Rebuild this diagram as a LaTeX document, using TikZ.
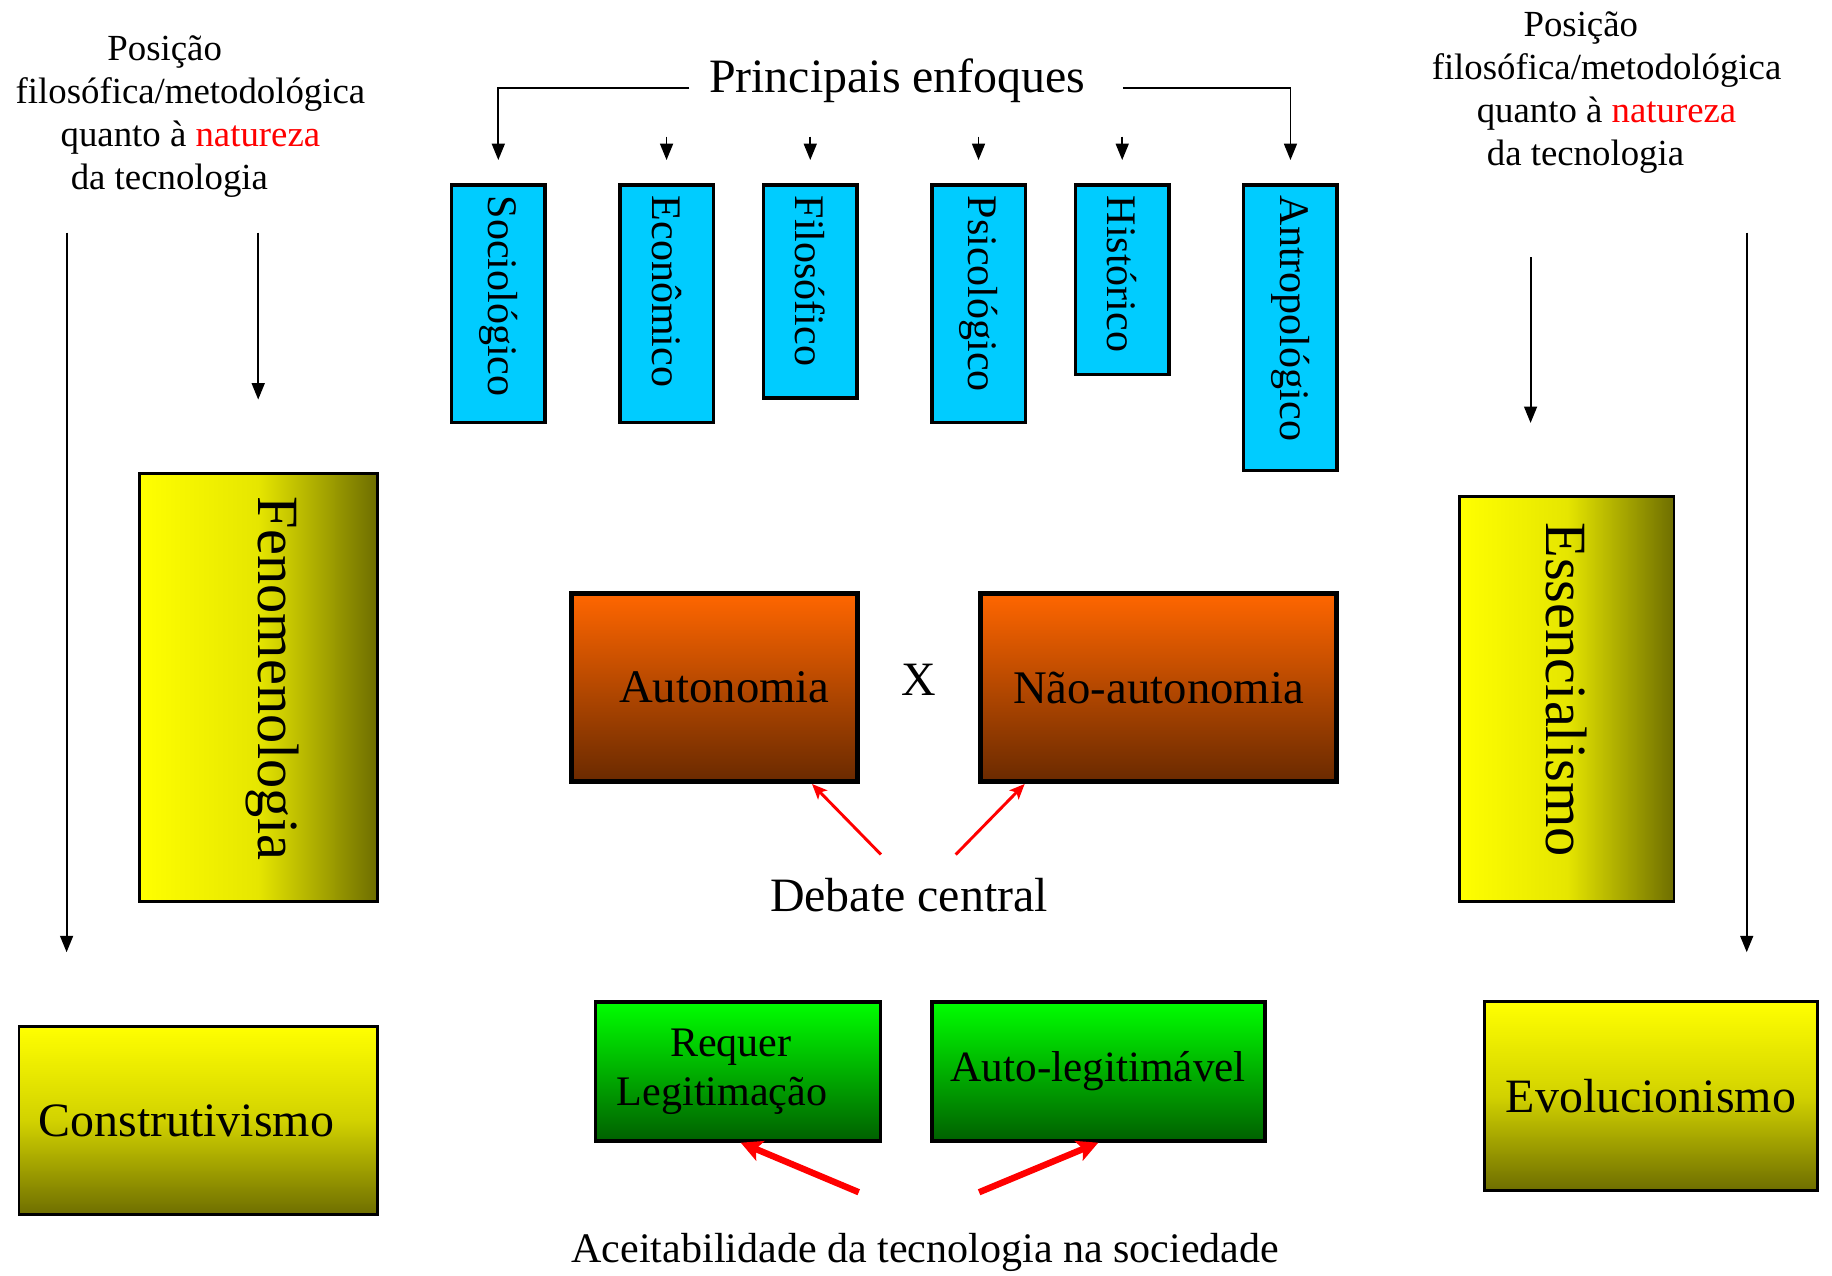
\documentclass[tikz,border=0pt]{standalone}
\usepackage{fontspec}
\setmainfont{Liberation Serif}
\usetikzlibrary{arrows.meta}
\definecolor{cyanbox}{HTML}{00CCFF}
\definecolor{olv}{HTML}{6E6E00}
\definecolor{yelmid}{HTML}{E6E600}
\definecolor{yelmidv}{HTML}{D2D200}
\definecolor{orgtop}{HTML}{FF6600}
\definecolor{orgbot}{HTML}{6A2A00}
\definecolor{grntop}{HTML}{00FF00}
\definecolor{grnbot}{HTML}{006000}
\begin{document}
\begin{tikzpicture}[x=1pt,y=-1pt,
  every node/.style={inner sep=0pt},
  blackarrow/.style={line width=1.6pt,-{Triangle[length=14pt,width=11pt]}},
  redthin/.style={draw=red,line width=2.5pt,-{Stealth[length=13pt,width=11pt,inset=3pt]}},
  redthick/.style={draw=red,line width=5.5pt,-{Stealth[length=18pt,width=18pt,inset=4pt]}},
  bluebox/.style={draw=black,line width=3pt,fill=cyanbox,rotate=-90,minimum height=80pt,inner xsep=9pt,align=left,font=\fontsize{36}{43}\selectfont},
  vyellow/.style={draw=black,line width=2.5pt,rotate=-90,left color=yellow,right color=olv,middle color=yelmid,align=left,font=\fontsize{50}{60}\selectfont},
  hyellow/.style={draw=black,line width=2.5pt,top color=yellow,bottom color=olv,middle color=yelmidv,minimum height=161.5pt,font=\fontsize{41}{49}\selectfont},
  orangebox/.style={draw=black,line width=4pt,top color=orgtop,bottom color=orgbot,minimum height=161pt,font=\fontsize{40}{48}\selectfont},
  greenbox/.style={draw=black,line width=3pt,top color=grntop,bottom color=grnbot,minimum height=119pt,align=center},
  sidetext/.style={align=center,font=\fontsize{31.5}{36.7}\selectfont}]
\useasboundingbox (0,0) rectangle (1568,1092);

% side texts
\node[sidetext] (lt) at (163,100) {Posição\hspace*{44pt}\\filosófica/metodológica\\quanto à {\color{red}natureza}\hspace*{15pt}\\da tecnologia\hspace*{36pt}};
\node[sidetext] (rt) at (1375,79) {Posição\hspace*{44pt}\\filosófica/metodológica\\quanto à {\color{red}natureza}\hspace*{13pt}\\da tecnologia\hspace*{36pt}};

% title
\node[font=\fontsize{41}{49}\selectfont] (pe) at (768,69) {Principais enfoques};

% blue boxes
\node[bluebox,text width=185pt] (soc) at (426.5,260) {Sociológico};
\node[bluebox,text width=185pt] (eco) at (570.5,260) {Econômico};
\node[bluebox,text width=164pt] (fil) at (693.5,249.5) {Filosófico};
\node[bluebox,text width=185pt] (psi) at (837.5,260) {Psicológico};
\node[bluebox,text width=144pt] (his) at (960.5,239.5) {Histórico};
\node[bluebox,text width=226pt] (ant) at (1104.5,280.5) {Antropológico};

% yellow boxes
\node[vyellow,minimum height=203.5pt,inner xsep=20pt,text width=326.5pt,text height=20pt,text depth=20pt] (fen) at (221,588.5) {Fenomenologia};
\node[vyellow,minimum height=183.5pt,inner xsep=22pt,text width=302.5pt] (ess) at (1341,598.5) {Essencialismo};
\node[hyellow,minimum width=306.5pt] (con) at (169.5,959) {Construtivismo\hspace*{20pt}};
\node[hyellow,minimum width=285.5pt] (evo) at (1413,938) {Evolucionismo};

% orange boxes
\node[orangebox,minimum width=245pt] (aut) at (611.5,588.5) {\hspace*{17pt}Autonomia};
\node[orangebox,minimum width=305pt] (nao) at (991.5,588.5) {Não-autonomia};
\node[font=\fontsize{41}{49}\selectfont] (x) at (786,582) {X};
\node[font=\fontsize{41}{49}\selectfont] (dc) at (778,766) {Debate central};

% green boxes
\node[greenbox,minimum width=244pt,font=\fontsize{36}{42}\selectfont] (req) at (631.5,917) {Requer\hspace*{12pt}\\Legitimação\hspace*{27pt}};
\node[greenbox,minimum width=285pt,font=\fontsize{37}{44}\selectfont] (auto) at (940,917) {Auto-legitimável};
\node[font=\fontsize{36}{43}\selectfont] (acc) at (792,1072) {Aceitabilidade da tecnologia na sociedade};

% title connectors
\coordinate (pl) at (590,75);
\coordinate (pr) at (961,75);
\draw[blackarrow] (pl) -| ([yshift=20pt]soc.west);
\draw[blackarrow] (pr) -| ([yshift=20pt]ant.west);
\foreach \b in {eco,fil,psi,his}
  \draw[blackarrow] ([yshift=40pt]\b.west) -- ([yshift=20pt]\b.west);

% vertical arrows
\coordinate (la1) at (57,199);   \coordinate (la2) at (57,815);
\coordinate (lb1) at (221,199);  \coordinate (lb2) at (221,342);
\coordinate (ra1) at (1310,220); \coordinate (ra2) at (1310,362);
\coordinate (rb1) at (1495,199); \coordinate (rb2) at (1495,815);
\draw[blackarrow] (la1) -- (la2);
\draw[blackarrow] (lb1) -- (lb2);
\draw[blackarrow] (ra1) -- (ra2);
\draw[blackarrow] (rb1) -- (rb2);

% red arrows
\draw[redthin] ([xshift=-24pt,yshift=20pt]dc.north) -- ([xshift=83.5pt]aut.south);
\draw[redthin] ([xshift=40pt,yshift=20pt]dc.north) -- ([xshift=-114.5pt]nao.south);
\draw[redthick] ([xshift=-57pt,yshift=35pt]acc.north) -- ([xshift=2.5pt]req.south);
\draw[redthick] ([xshift=46pt,yshift=35pt]acc.north) -- (auto.south);
\end{tikzpicture}
\end{document}
